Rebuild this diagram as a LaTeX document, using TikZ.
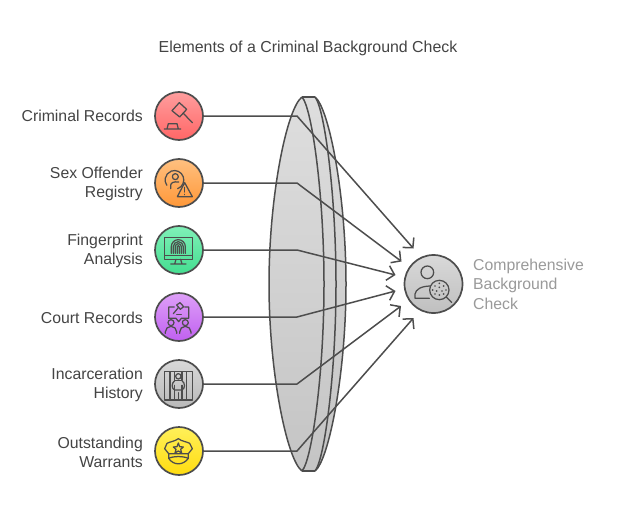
\documentclass[tikz,border=0pt]{standalone}
\usepackage{fontspec}
\setmainfont{Liberation Sans}
\usetikzlibrary{arrows.meta,shapes.geometric}
\definecolor{ink}{HTML}{4D4D4D}
\definecolor{txt}{HTML}{444444}
\definecolor{muted}{HTML}{9A9A9A}
\tikzset{
  badge/.style={circle,draw=ink,line width=1.7pt,minimum size=48pt,inner sep=0pt,shade,shading angle=0},
  lab/.style={anchor=east,align=right,text=txt,font=\fontsize{15.8}{19}\selectfont,inner sep=0pt},
  link/.style={draw=ink,line width=1.5pt,line join=round,-{Straight Barb[length=7pt,width=15pt,line width=1.5pt]}},
  icon/.style={draw=ink,line width=1.25pt,line cap=round,line join=round},
  lensline/.style={draw=ink,line width=1.5pt},
  zoomA/.style={shift={(140,80)},x=0.3333pt,y=-0.3333pt},
  zoomB/.style={shift={(140,220)},x=0.3333pt,y=-0.3333pt},
  zoomC/.style={shift={(140,350)},x=0.3333pt,y=-0.3333pt},
  zoomD/.style={shift={(380,230)},x=0.3333pt,y=-0.3333pt},
}
\begin{document}
\begin{tikzpicture}[x=1pt,y=-1pt]
\useasboundingbox (0,0) rectangle (617,516);
\fill[white] (0,0) rectangle (617,516);
\node[anchor=center,text=txt,font=\fontsize{15.9}{19}\selectfont,inner sep=0pt] (title) at (308,48.5) {Elements of a Criminal Background Check};

% lens
\path[top color=gray!26,bottom color=gray!46]
  (302,97) .. controls (287,108) and (269,195) .. (269,284) .. controls (269,373) and (287,460) .. (302,471)
  -- (315,471) .. controls (329,460) and (346,373) .. (346,284) .. controls (346,195) and (329,108) .. (315,97) -- cycle;
\draw[lensline] (315,97) .. controls (329,108) and (346,195) .. (346,284) .. controls (346,373) and (329,460) .. (315,471);
\draw[lensline] (315,97) .. controls (324.5,108) and (336,195) .. (336,284) .. controls (336,373) and (324.5,460) .. (315,471);
\draw[lensline] (302,97) .. controls (312,108) and (324,195) .. (324,284) .. controls (324,373) and (312,460) .. (302,471);
\draw[lensline] (302,97) .. controls (287,108) and (269,195) .. (269,284) .. controls (269,373) and (287,460) .. (302,471);
\draw[lensline] (302,97) -- (315,97) (302,471) -- (315,471);

% nodes
\node[badge,top color=red!38!white,bottom color=red!60!white] (n1) at (179,116) {};
\node[badge,top color={rgb,255:red,255;green,192;blue,128},bottom color={rgb,255:red,255;green,152;blue,56}] (n2) at (179,183) {};
\node[badge,top color={rgb,255:red,128;green,240;blue,184},bottom color={rgb,255:red,68;green,222;blue,144}] (n3) at (179,250) {};
\node[badge,top color={rgb,255:red,222;green,160;blue,248},bottom color={rgb,255:red,192;green,96;blue,240}] (n4) at (179,317) {};
\node[badge,top color=gray!30,bottom color=gray!55] (n5) at (179,384) {};
\node[badge,top color={rgb,255:red,255;green,240;blue,90},bottom color={rgb,255:red,255;green,220;blue,16}] (n6) at (179,451) {};
\node[badge,minimum size=58pt,top color=gray!30,bottom color=gray!50] (target) at (433.5,284) {};

% labels
\node[lab] (l1) at (143,116) {Criminal Records};
\node[lab] (l2) at (143,183.5) {Sex Offender\\Registry};
\node[lab] (l3) at (143,250.5) {Fingerprint\\Analysis};
\node[lab] (l4) at (143,317.5) {Court Records};
\node[lab] (l5) at (143,385) {Incarceration\\History};
\node[lab] (l6) at (143,452) {Outstanding\\Warrants};
\node[anchor=west,align=left,text=muted,font=\fontsize{15.8}{19.5}\selectfont,inner sep=0pt] (l7) at (473,284) {Comprehensive\\Background\\Check};

% connector bends and ends
\coordinate (b1) at (297,116); \coordinate (e1) at (413.5,248.5);
\coordinate (b2) at (297,183); \coordinate (e2) at (401.5,261.5);
\coordinate (b3) at (297,250); \coordinate (e3) at (395.5,275);
\coordinate (b4) at (297,317); \coordinate (e4) at (395.5,291);
\coordinate (b5) at (297,384); \coordinate (e5) at (401,306);
\coordinate (b6) at (297,451); \coordinate (e6) at (413.5,318);
\foreach \i in {1,...,6} \draw[link] (n\i.east) -- (b\i) -- (e\i);

% gavel
\begin{scope}[zoomA]
\draw[icon] (118,68) -- (140,88) -- (119,111) -- (96,92) -- cycle;
\draw[icon] (131,101) -- (157,128);
\draw[icon] (85,131) -- (111,131) -- (115,147) (85,131) -- (81,147) (73,147) -- (122,147);
\end{scope}
% person with warning
\begin{scope}[zoomA]
\draw[icon] (113,326) arc[start angle=70,end angle=-215,radius=28];
\draw[icon] (106,290) circle[radius=9];
\draw[icon] (92,326) -- (92,316) .. controls (92,308) and (102,304) .. (116,306);
\draw[icon] (134,308) -- (157,350) -- (112,350) -- cycle;
\draw[icon] (134,322) -- (134,336);
\draw[icon] (134,343) -- (134,344);
\end{scope}
% monitor with fingerprint
\begin{scope}[zoomB]
\draw[icon] (74,52) rectangle (157,118);
\draw[icon] (74,107) -- (157,107);
\draw[icon] (108,118) -- (104,132) (122,118) -- (126,132) (92,132) -- (138,132);
\draw[icon] (94,100) -- (94,80) arc[start angle=180,end angle=360,radius=21] -- (136,100);
\draw[icon] (100,100) -- (100,80) arc[start angle=180,end angle=360,radius=15] -- (130,100);
\draw[icon] (106,100) -- (106,80) arc[start angle=180,end angle=360,radius=9] -- (124,100);
\draw[icon] (112,100) -- (112,80) arc[start angle=180,end angle=360,radius=3] -- (118,100);
\end{scope}
% court bubble with people
\begin{scope}[zoomB]
\draw[icon] (103,261) -- (86,261) -- (86,295) -- (108,295) -- (116,305) -- (124,295) -- (146,295) -- (146,261) -- (134,261);
\draw[icon] (110,255) -- (120,248) -- (131,260) -- (121,268) -- cycle;
\draw[icon] (115,263) -- (100,281);
\draw[icon] (110,284) -- (124,284);
\draw[icon] (93,308) circle[radius=9] (136,308) circle[radius=9];
\draw[icon] (76,340) -- (76,336) arc[start angle=180,end angle=360,radius=17] -- (110,340);
\draw[icon] (119,340) -- (119,336) arc[start angle=180,end angle=360,radius=17] -- (153,340);
\end{scope}
% prison bars
\begin{scope}[zoomC]
\draw[icon] (73,65) rectangle (157,150);
\draw[icon] (90,65) -- (90,150) (140,65) -- (140,150);
\draw[icon] (104,65) -- (104,90) (126,65) -- (126,90);
\draw[icon] (115,79) circle[radius=8];
\draw[icon] (104,92) -- (126,92);
\draw[icon] (104,92) .. controls (94,100) and (94,115) .. (104,120) -- (126,120) .. controls (136,115) and (136,100) .. (126,92);
\draw[icon] (104,106) -- (104,150) (126,106) -- (126,150) (115,128) -- (115,150);
\end{scope}
% police cap
\begin{scope}[zoomC]
\draw[icon] (115,266) .. controls (125,274) and (140,275) .. (149,280) -- (157,296) -- (145,311) -- (86,311) -- (74,296) -- (81,280) .. controls (90,275) and (105,274) .. (115,266) -- cycle;
\draw[icon] (86,311) -- (86,325) .. controls (100,347) and (130,347) .. (145,325) -- (145,311);
\draw[icon] (86,325) .. controls (100,318) and (130,318) .. (145,325);
\draw[icon] (115,279) -- (119,290) -- (130,291) -- (122,298) -- (125,309) -- (115,303) -- (105,309) -- (108,298) -- (100,291) -- (111,290) -- cycle;
\end{scope}
% person with magnifier
\begin{scope}[zoomD]
\draw[icon] (142,127) circle[radius=19];
\draw[icon] (148,205) -- (105,205) -- (105,192) .. controls (108,178) and (122,169) .. (150,168);
\draw[icon] (178,180) circle[radius=29];
\draw[icon] (199,201) -- (215,217);
\foreach \p in {(178,160),(165,168),(191,168),(178,172),(158,180),(198,180),(170,183),(186,183),(165,192),(191,192),(178,195)}
  \fill[ink] \p circle[radius=2.8];
\end{scope}
\end{tikzpicture}
\end{document}
